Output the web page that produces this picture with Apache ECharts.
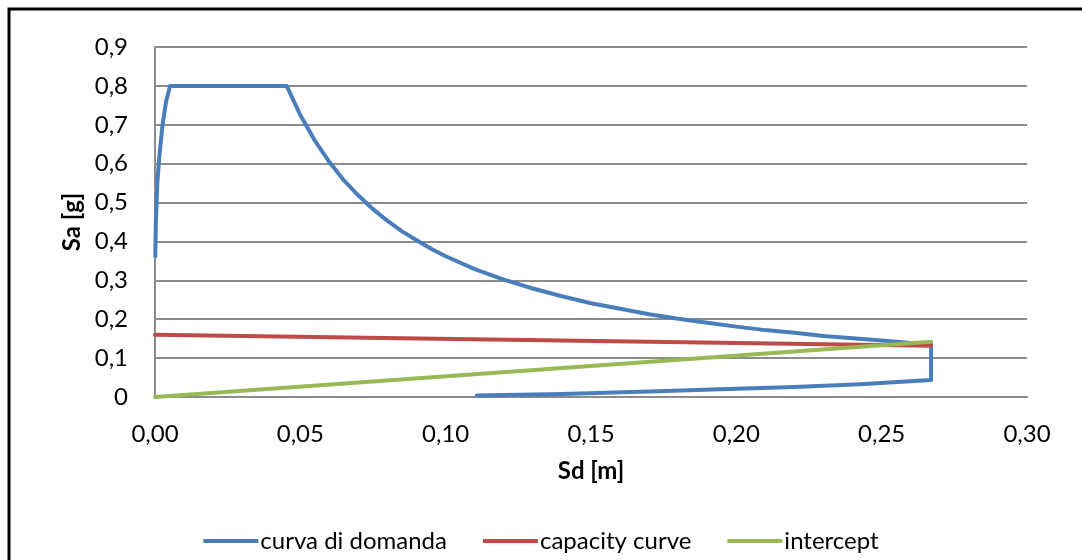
<!DOCTYPE html>
<html>
<head>
<meta charset="utf-8">
<script src="https://cdn.jsdelivr.net/npm/echarts@6/dist/echarts.min.js"></script>
<style>
  html, body { margin: 0; padding: 0; background: #fff; }
  #chart { width: 1082px; height: 560px; }
</style>
</head>
<body>
<div id="chart"></div>
<script>
// demand curve (ADRS), points in drawing order: [Sd, Sa]
const demandSd = [0.0001, 0.0003, 0.0008, 0.0015, 0.0026, 0.0038, 0.0052, 0.0453,
  0.050, 0.055, 0.060, 0.065, 0.070, 0.075, 0.080, 0.085, 0.090, 0.095, 0.100,
  0.110, 0.120, 0.130, 0.140, 0.150, 0.160, 0.170, 0.180, 0.190, 0.200,
  0.210, 0.220, 0.230, 0.240, 0.250, 0.260, 0.267,
  0.267, 0.2425, 0.220, 0.200, 0.170, 0.140, 0.1107];
const demandSa = [0.362, 0.450, 0.550, 0.620, 0.700, 0.760, 0.800, 0.800,
  0.725, 0.659, 0.604, 0.557, 0.518, 0.483, 0.453, 0.426, 0.403, 0.381, 0.362,
  0.329, 0.302, 0.279, 0.259, 0.241, 0.227, 0.213, 0.201, 0.191, 0.181,
  0.172, 0.165, 0.157, 0.151, 0.145, 0.139, 0.136,
  0.044, 0.033, 0.026, 0.021, 0.014, 0.008, 0.004];

const capacitySd = [0.000, 0.267];
const capacitySa = [0.160, 0.132];

const interceptSd = [0.000, 0.267];
const interceptSa = [0.000, 0.142];

const seriesNames = ['curva di domanda', 'capacity curve', 'intercept'];
const colors = ['#4A7EBB', '#BE4B48', '#98B954'];

const pairs = (xs, ys) => xs.map((x, i) => [x, ys[i]]);
const comma = (v, d) => v.toFixed(d).replace('.', ',');

const font = 'Lato, "Open Sans", sans-serif';
const gridColor = '#8c8c8c';

const chart = echarts.init(document.getElementById('chart'));

const lineSeries = (name, data, color) => ({
  name,
  type: 'line',
  data,
  showSymbol: false,
  symbol: 'none',
  animation: false,
  lineStyle: { color, width: 4, cap: 'round', join: 'round' },
  itemStyle: { color },
});

chart.setOption({
  animation: false,
  textStyle: { fontFamily: font },
  graphic: [
    {
      type: 'polyline',
      shape: { points: [[9, 560], [9, 9], [1082, 9]] },
      style: { stroke: '#000', lineWidth: 3, fill: null },
    },
  ],
  grid: { left: 155, right: 55, top: 47, bottom: 163 },
  xAxis: {
    type: 'value',
    min: 0,
    max: 0.3,
    interval: 0.05,
    name: 'Sd [m]',
    nameLocation: 'middle',
    nameGap: 62,
    nameTextStyle: { fontFamily: font, fontSize: 24, fontWeight: 'bold', color: '#000' },
    axisLine: { show: true, lineStyle: { color: gridColor, width: 2 } },
    axisTick: { show: false },
    splitLine: { show: false },
    axisLabel: {
      margin: 25,
      fontFamily: font,
      fontSize: 24,
      color: '#000',
      formatter: (v) => comma(v, 2),
    },
  },
  yAxis: {
    type: 'value',
    min: 0,
    max: 0.9,
    interval: 0.1,
    name: 'Sa [g]',
    nameLocation: 'middle',
    nameGap: 42,
    nameTextStyle: { fontFamily: font, fontSize: 24, fontWeight: 'bold', color: '#000' },
    axisLine: { show: true, lineStyle: { color: gridColor, width: 2 } },
    axisTick: { show: false },
    splitLine: { show: true, lineStyle: { color: gridColor, width: 2 } },
    axisLabel: {
      margin: 27,
      fontFamily: font,
      fontSize: 24,
      color: '#000',
      formatter: (v) => (v === 0 ? '0' : comma(v, 1)),
    },
  },
  legend: {
    bottom: 2,
    left: 'center',
    icon: 'rect',
    itemWidth: 55,
    itemHeight: 4,
    itemGap: 36,
    textStyle: { fontFamily: font, fontSize: 24, color: '#000', padding: [0, 0, 0, -3] },
    data: seriesNames,
  },
  series: [
    lineSeries(seriesNames[0], pairs(demandSd, demandSa), colors[0]),
    lineSeries(seriesNames[1], pairs(capacitySd, capacitySa), colors[1]),
    lineSeries(seriesNames[2], pairs(interceptSd, interceptSa), colors[2]),
  ],
});
</script>
</body>
</html>
